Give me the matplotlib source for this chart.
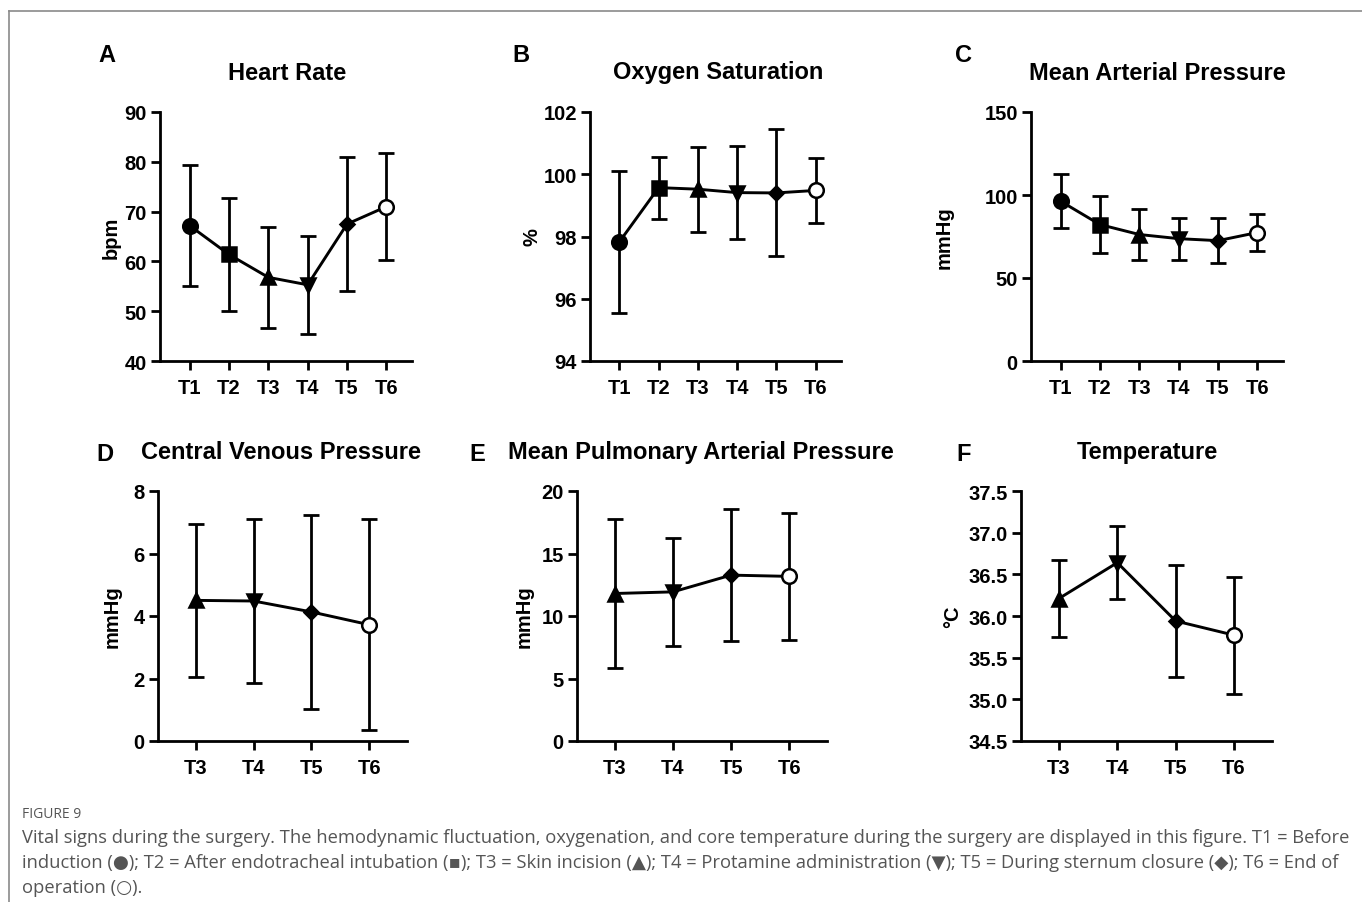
import numpy as np
import matplotlib
matplotlib.use("Agg")
from matplotlib import pyplot as plt
from matplotlib.lines import Line2D

plt.rcParams['font.family'] = ['Liberation Sans', 'DejaVu Sans']
plt.rcParams['font.weight'] = 'bold'

# time points and marker per time point
labels_all = ["T1", "T2", "T3", "T4", "T5", "T6"]
markers_all = ["o", "s", "^", "v", "D", "o"]

# values (mean, SD)
hr_mean = [67.2, 61.4, 56.8, 55.3, 67.5, 71.0]
hr_sd = [12.2, 11.4, 10.1, 9.8, 13.4, 10.8]

spo2_mean = [97.83, 99.57, 99.52, 99.41, 99.40, 99.48]
spo2_sd = [2.29, 1.00, 1.37, 1.50, 2.04, 1.04]

map_mean = [96.3, 82.2, 76.2, 73.7, 72.5, 77.4]
map_sd = [16.2, 17.2, 15.2, 12.7, 13.5, 11.4]

cvp_mean = [4.50, 4.48, 4.13, 3.72]
cvp_sd = [2.45, 2.62, 3.11, 3.38]

mpap_mean = [11.8, 11.93, 13.27, 13.17]
mpap_sd = [5.94, 4.30, 5.29, 5.10]

temp_mean = [36.21, 36.64, 35.94, 35.77]
temp_sd = [0.46, 0.44, 0.67, 0.70]

W, H = 1362, 903
fig = plt.figure(figsize=(W / 100, H / 100), dpi=100)


def px_axes(x0, x1, ytop, ybot):
    return fig.add_axes([x0 / W, (H - ybot) / H, (x1 - x0) / W, (ybot - ytop) / H])


def panel(rect, letter, letter_xy, title, title_xy, ylabel, ylabel_x,
          mean, sd, first, ylim, yticks, yfmt, xlim):
    ax = px_axes(*rect)
    n = len(mean)
    x = np.arange(n)
    labs = labels_all[first:first + n]
    mks = markers_all[first:first + n]
    ax.plot(x, mean, color="black", lw=2.1, zorder=2, clip_on=False)
    ax.errorbar(x, mean, yerr=sd, fmt="none", ecolor="black", elinewidth=2,
                capsize=6, capthick=2, zorder=1)
    for i in range(n):
        lab = labs[i]
        m = mks[i]
        size = {"o": 10.5, "s": 10, "^": 9.5, "v": 9.5, "D": 7}[m]
        face = "white" if lab == "T6" else "black"
        ax.plot(x[i], mean[i], marker=m, ms=size, mfc=face, mec="black",
                mew=1.8, ls="none", zorder=3)
    ax.set_xlim(*xlim)
    ax.set_ylim(*ylim)
    ax.set_yticks(yticks)
    ax.set_yticklabels([yfmt.format(v) for v in yticks])
    ax.set_xticks(x)
    ax.set_xticklabels(labs)
    for s in ["top", "right"]:
        ax.spines[s].set_visible(False)
    for s in ["left", "bottom"]:
        ax.spines[s].set_linewidth(2)
    ax.tick_params(width=2, length=6.5, labelsize=14.5)
    ax.tick_params(axis="x", pad=6)
    ax.tick_params(axis="y", pad=3)
    for t in ax.get_xticklabels() + ax.get_yticklabels():
        t.set_fontweight("bold")
    fig.text(letter_xy[0] / W, 1 - letter_xy[1] / H, letter, fontsize=17,
             fontweight="bold", ha="center", va="center")
    fig.text(title_xy[0] / W, 1 - title_xy[1] / H, title, fontsize=17,
             fontweight="bold", ha="center", va="center")
    fig.text(ylabel_x / W, 1 - ((rect[2] + rect[3]) / 2) / H, ylabel, fontsize=14.5,
             fontweight="bold", ha="center", va="center", rotation=90)
    return ax


top_xlim = (-0.75, 5.65)
bot_xlim = (-0.65, 3.65)
panel((160, 412, 113, 362), "A", (107, 55), "Heart Rate", (287, 73), "bpm", 111,
      hr_mean, hr_sd, 0, (40, 90), [40, 50, 60, 70, 80, 90], "{:.0f}", top_xlim)
panel((590, 841, 113, 362), "B", (521, 55), "Oxygen Saturation", (718, 73), "%", 532,
      spo2_mean, spo2_sd, 0, (94, 102), [94, 96, 98, 100, 102], "{:.0f}", top_xlim)
panel((1031, 1283, 113, 362), "C", (964, 55), "Mean Arterial Pressure", (1157, 73), "mmHg", 944,
      map_mean, map_sd, 0, (0, 150), [0, 50, 100, 150], "{:.0f}", top_xlim)
panel((158, 407, 492, 742), "D", (105, 455), "Central Venous Pressure", (281, 453), "mmHg", 112,
      cvp_mean, cvp_sd, 2, (0, 8), [0, 2, 4, 6, 8], "{:.0f}", bot_xlim)
panel((577, 827, 492, 742), "E", (477, 455), "Mean Pulmonary Arterial Pressure", (701, 453), "mmHg", 524,
      mpap_mean, mpap_sd, 2, (0, 20), [0, 5, 10, 15, 20], "{:.0f}", bot_xlim)
panel((1021, 1272, 492, 742), "F", (964, 455), "Temperature", (1147, 453), "°C", 953,
      temp_mean, temp_sd, 2, (34.5, 37.5), [34.5, 35.0, 35.5, 36.0, 36.5, 37.0, 37.5], "{:.1f}",
      bot_xlim)

# frame around the figure
fig.add_artist(Line2D([9 / W, 1], [1 - 12 / H, 1 - 12 / H], color="#8a8a8a", lw=1.2))
fig.add_artist(Line2D([9 / W, 9 / W], [0, 1 - 12 / H], color="#8a8a8a", lw=1.2))

cap_font = ['Open Sans', 'DejaVu Sans']
fig.text(22 / W, 1 - 815 / H, "FIGURE 9", fontsize=10, color="#555555",
         family=cap_font, fontweight="normal", va="center")
cap_lines = [
    "Vital signs during the surgery. The hemodynamic fluctuation, oxygenation, and core temperature during the surgery are displayed in this figure. T1 = Before",
    "induction (\u25cf); T2 = After endotracheal intubation (\u25aa); T3 = Skin incision (\u25b2); T4 = Protamine administration (\u25bc); T5 = During sternum closure (\u25c6); T6 = End of",
    "operation (\u25cb).",
]
for i, line in enumerate(cap_lines):
    fig.text(22 / W, 1 - (838 + 25 * i) / H, line, fontsize=13.25, color="#555555",
             family=cap_font, fontweight="normal", va="center")

fig.savefig("out.png", dpi=100)
